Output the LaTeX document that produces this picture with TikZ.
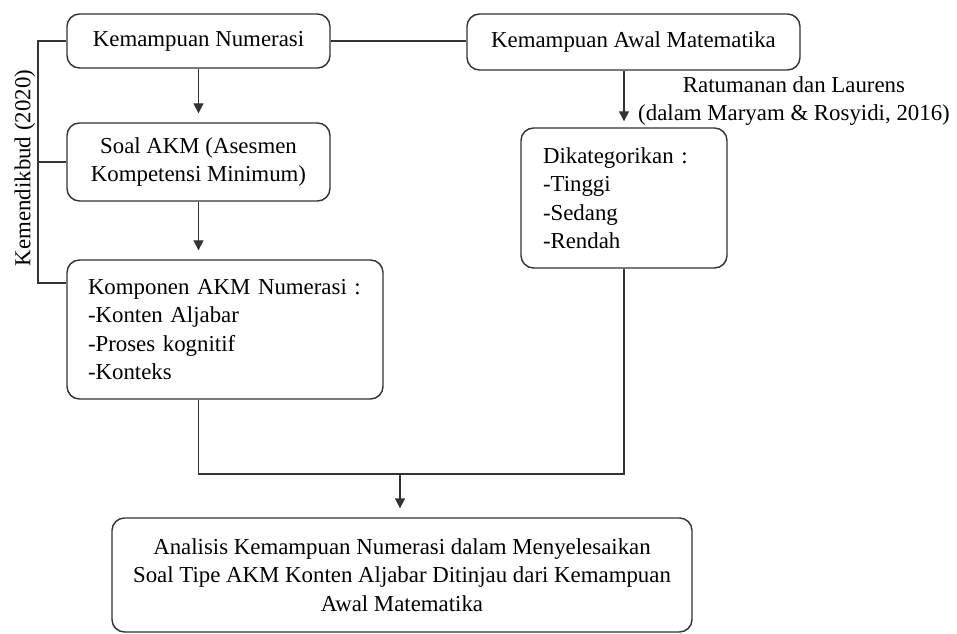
\documentclass[tikz,border=0pt]{standalone}
\usepackage{fontspec}
\setmainfont{Liberation Serif}
\usepackage{tikz}
\usetikzlibrary{arrows.meta, shapes}

\begin{document}
\begin{tikzpicture}[every node/.append style={font=\fontsize{13pt}{16.2pt}\selectfont}]
\useasboundingbox (0,0) rectangle (19.14,-12.68);
\begin{scope}[every node/.style={rectangle, rounded corners=0.25cm, draw=black!80, line width=0.8pt,
              font=\fontsize{13pt}{16.2pt}\selectfont}]
  \node[minimum width=5.26cm, minimum height=1.08cm] (KN) at (3.97,-0.82) {Kemampuan Numerasi};
  \node[minimum width=6.66cm, minimum height=1.12cm] (KAM) at (12.67,-0.84) {Kemampuan Awal Matematika};
  \node[minimum width=5.26cm, minimum height=1.56cm, align=center] (Soal) at (3.97,-3.24)
       {Soal AKM (Asesmen\\Kompetensi Minimum)};
  \node[minimum width=6.32cm, minimum height=2.78cm, text width=5.48cm, inner xsep=0.42cm, align=left]
       (Kom) at (4.5,-6.59)
       {Komponen AKM Numerasi :\\-Konten Aljabar\\-Proses kognitif\\-Konteks};
  \node[minimum width=4.12cm, minimum height=2.8cm, text width=3.24cm, inner xsep=0.44cm, align=left]
       (Dik) at (12.48,-3.96)
       {Dikategorikan :\\-Tinggi\\-Sedang\\-Rendah};
  \node[minimum width=11.6cm, minimum height=2.28cm, align=center] (Ana) at (8.04,-11.5)
       {Analisis Kemampuan Numerasi dalam Menyelesaikan\\Soal Tipe AKM Konten Aljabar Ditinjau dari Kemampuan\\Awal Matematika};
\end{scope}

\node[align=center, inner sep=0pt] (src) at (15.88,-2.02)
     {Ratumanan dan Laurens\\(dalam Maryam \& Rosyidi, 2016)};
\node[rotate=90, inner sep=0pt] (ref) at (0.5,-3.36) {Kemendikbud (2020)};

\coordinate (brk) at (0.76,-3.32);
\coordinate (join) at (8.0,-9.48);

\begin{scope}[>={Triangle[length=0.2cm, width=0.2cm]},
              every edge/.style={draw=black!80, line width=0.8pt}]
    \path[draw=black!80, line width=0.8pt] (KN.east) -- (KN.east -| KAM.west);
    \path[draw=black!80, line width=0.8pt] ([yshift=0.93cm]Kom.west) -| (brk) |- (KN.west);
    \path[draw=black!80, line width=0.8pt] (Soal.west) -- (Soal.west -| brk);
    \path[draw=black!80, line width=0.8pt] (Kom.south -| Soal.south) |- (join) -| (Dik.south);
    \path[->, shorten >=0.18cm] (KN.south) edge (Soal.north);
    \path[->, shorten >=0.18cm] (Soal.south) edge (Soal.south |- Kom.north);
    \path[->, shorten >=0.12cm] (KAM.south -| Dik.north) edge (Dik.north);
    \path[->, shorten >=0.18cm] (join) edge (join |- Ana.north);
\end{scope}
\end{tikzpicture}
\end{document}
